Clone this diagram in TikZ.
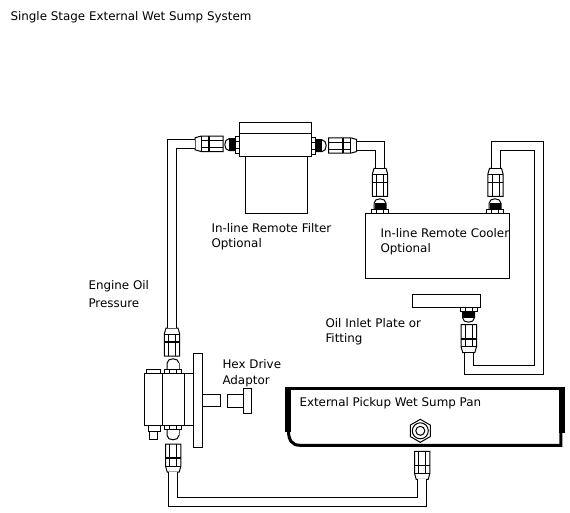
\documentclass[tikz,border=0pt]{standalone}
\usepackage{tikz}
\usepackage{xcolor}
\usepackage{fontspec}
\setmainfont{DejaVu Sans}
\usetikzlibrary{shapes.geometric}
\tikzset{
  part/.style={rectangle, draw, fill=white, inner sep=0pt},
  lbl/.style={anchor=west, inner sep=0pt, font=\fontsize{11.9}{14}\selectfont},
  hose/.style={draw=black, double=white, double distance=8pt, line width=1pt},
  pics/fitting/.style={code={
    \coordinate (-end) at (0,0);
    \draw[fill=white] (-6,0) -- (6,0) -- (7.7,6) -- (7.7,28) -- (-7.7,28) -- (-7.7,6) -- cycle;
    \draw (-7.7,6) -- (7.7,6) (-3.5,6) -- (-3.5,28) (3.5,6) -- (3.5,28);
    \draw[line width=1.6pt] (-7.7,14) -- (7.7,14);
  }},
  pics/nipple/.style={code={
    \draw[fill=white] (-6,-4) -- (-6,-10) .. controls (-6,-13) and (-3,-14.5) .. (0,-14.5) .. controls (3,-14.5) and (6,-13) .. (6,-10) -- (6,-4);
    \fill[#1] (-5.5,-4) rectangle (5.5,-10);
    \draw[fill=white] (-8.5,0) rectangle (8.5,-4);
    \draw (-3.5,0) -- (-3.5,-4) (3.5,0) -- (3.5,-4);
  }}
}
\begin{document}
\begin{tikzpicture}[x=1pt, y=-1pt, line width=1pt]
\useasboundingbox (0,0) rectangle (570,512);
\node[part, minimum width=62.4pt, minimum height=57.3pt] (filterbody) at (276.5,184.7) {};
\node[part, minimum width=72.4pt, minimum height=33.7pt] (filterhead) at (275.5,139.2) {};
\draw (filterhead.west |- 133.3,133.3) -- (filterhead.east |- 133.3,133.3);
\node[part, minimum width=144pt, minimum height=65pt] (cooler) at (437.7,245.8) {};
\node[part, minimum width=67.7pt, minimum height=13.4pt] (plate) at (446.2,301) {};

\node[lbl] (title) at (10,17) {Single Stage External Wet Sump System};
\node[lbl] (filtertext) at (211,228) {In-line Remote Filter};
\node[lbl] (filteropt) at (211,244) {Optional};
\node[lbl] (coolertext) at (380,233) {In-line Remote Cooler};
\node[lbl] (cooleropt) at (380,249) {Optional};
\node[lbl] (engtext) at (88,286) {Engine Oil};
\node[lbl] (presstext) at (88,303) {Pressure};
\node[lbl] (inlettext) at (325,323) {Oil Inlet Plate or};
\node[lbl] (fittingtext) at (325,339) {Fitting};
\node[lbl] (hextext) at (222,364) {Hex Drive};
\node[lbl] (adaptortext) at (222,381) {Adaptor};

\pic[rotate=90] at (239.3,144.6) {nipple=black};
\pic[rotate=-90] at (311.7,145.7) {nipple=black};
\pic at (380,213.3) {nipple=black};
\pic at (495,213.3) {nipple=black};
\pic[rotate=180] at (468.5,307.7) {nipple=black};
\pic at (173,373.3) {nipple=white};
\pic[rotate=180] at (173,425.3) {nipple=white};

\pic[rotate=90] (fitfilterl) at (195,143.8) {fitting};
\pic[rotate=-90] (fitfilterr) at (356.7,145.5) {fitting};
\pic (fitcoolerl) at (380,168.3) {fitting};
\pic (fitcoolerr) at (495.5,168.3) {fitting};
\pic[rotate=180] (fitplate) at (468.8,352.7) {fitting};
\pic (fitpumptop) at (172,328) {fitting};
\pic[rotate=180] (fitpumplow) at (173.2,472) {fitting};
\pic[rotate=180] (fitpan) at (422.2,479.3) {fitting};

\coordinate (hoseNE) at (539.2,146.2);
\coordinate (hoseSE) at (539.2,369.8);
\coordinate (hoseS) at (300,501.8);
\draw[hose] (fitpumptop-end) |- (fitfilterl-end);
\draw[hose] (fitfilterr-end) -| (fitcoolerl-end);
\draw[hose] (fitcoolerr-end) |- (hoseNE) -- (hoseSE) -| (fitplate-end);
\draw[hose] (fitpumplow-end) |- (hoseS) -| (fitpan-end);

\node[part, minimum width=18.3pt, minimum height=52pt] (pumpa) at (153.2,399.3) {};
\node[part, minimum width=22pt, minimum height=52pt] (pumpb) at (173.3,399.3) {};
\node[part, minimum width=9pt, minimum height=52pt] (pumpneck) at (188.8,399.3) {};
\node[part, minimum width=9pt, minimum height=93.7pt] (flange) at (197.8,400.2) {};
\node[part, minimum width=18.4pt, minimum height=11.6pt] (shaft) at (211.5,400.5) {};
\node[part, minimum width=15.6pt, minimum height=13pt] (adaptor) at (235.5,401.2) {};
\node[part, minimum width=8pt, minimum height=25.3pt] (adaptorhead) at (247.3,400.7) {};
\node[part, minimum width=14pt, minimum height=3.6pt] (plugtop) at (153.7,371.5) {};
\node[part, minimum width=11.7pt, minimum height=6.4pt] (plugnut) at (154.2,428.5) {};
\node[part, minimum width=8pt, minimum height=7.6pt] (plugtip) at (153.3,435.5) {};

\draw[line width=5.7pt] (288,432) -- (288,387) (562.1,387) -- (562.1,433);
\draw[line width=3.6pt] (285,388.6) -- (565,388.6);
\draw[line width=3pt] (288.5,431) .. controls (288.5,440) and (292,445.3) .. (300,445.3) -- (560.8,445.3) -- (560.8,433);
\node[lbl] (pantext) at (299,403) {External Pickup Wet Sump Pan};
\node[regular polygon, regular polygon sides=6, shape border rotate=30, draw, inner sep=0pt, minimum size=23pt] (porthex) at (420.3,430.8) {};
\node[circle, draw, inner sep=0pt, minimum size=16pt] (portring) at (420.3,430.8) {};
\node[circle, draw, inner sep=0pt, minimum size=9pt] (porthole) at (420.3,430.8) {};
\end{tikzpicture}
\end{document}
